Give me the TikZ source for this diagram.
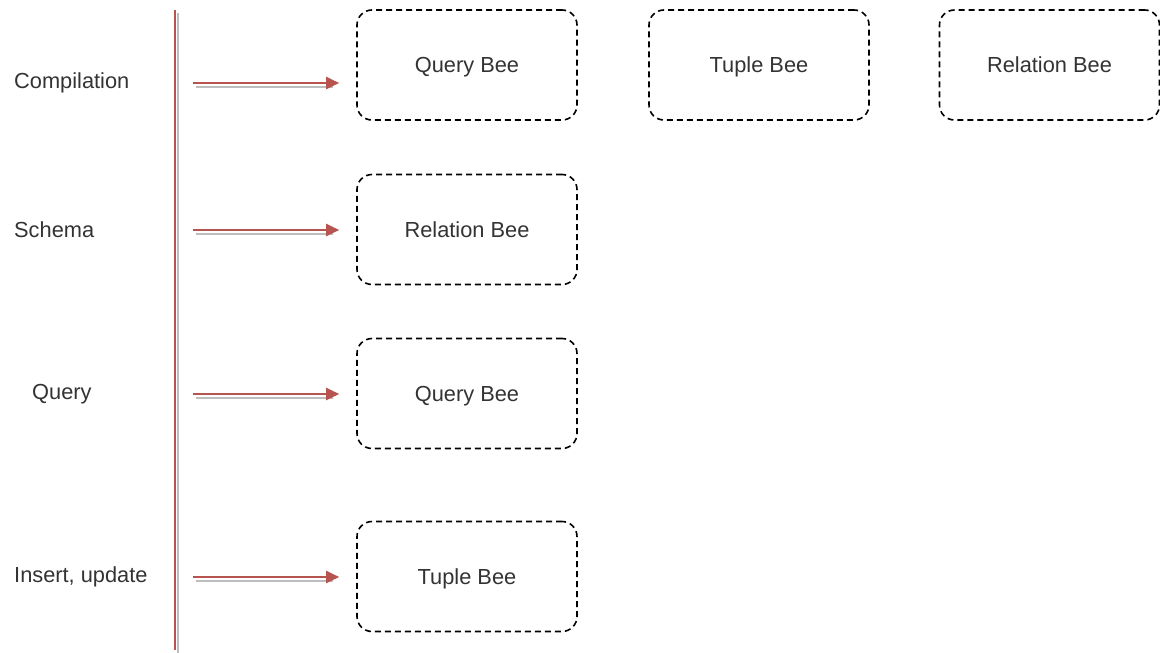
\documentclass[tikz,border=0pt]{standalone}
\usepackage{fontspec}
\setmainfont{Liberation Sans}
\usetikzlibrary{positioning, arrows.meta}

\definecolor{linered}{HTML}{B85450}
\definecolor{shadowgray}{HTML}{BDBDBD}
\definecolor{textgray}{HTML}{333333}

\tikzset{
  bee/.style={draw=black, dashed, dash pattern=on 6pt off 4pt, line width=1.6pt,
    rounded corners=15pt, minimum width=220pt, minimum height=110pt,
    font=\fontsize{21.8}{26}\selectfont, text=textgray, text depth=-2pt},
  phase/.style={anchor=west, inner sep=0pt, font=\fontsize{21.8}{26}\selectfont, text=textgray},
  redline/.style={draw=linered, line width=2pt},
  shadowline/.style={draw=shadowgray, line width=2pt},
  flow/.style={redline, -{Triangle[length=13pt, width=12pt]}}
}

\begin{document}
\begin{tikzpicture}[x=1pt, y=-1pt]
  \useasboundingbox (0,0) rectangle (1160,653);

  % time axis
  \coordinate (top) at (175,10);
  \coordinate (bottom) at (175,650);
  \draw[shadowline] ([shift={(3,3)}]top) -- ([shift={(3,3)}]bottom);
  \draw[redline] (top) -- (bottom);

  % phases
  \node[phase] (compilation) at (14,83) {Compilation};
  \node[phase] (schema) at (14,230) {Schema};
  \node[phase] (query) at (32,394) {Query};
  \node[phase] (insert) at (14,577) {Insert, update};

  % bees
  \node[bee] (querybee) at (467,65) {Query Bee};
  \node[bee] (tuplebee) at (759,65) {Tuple Bee};
  \node[bee] (relationbee) at (1049.5,65) {Relation Bee};
  \node[bee] (relationbeeb) at (467,229.5) {Relation Bee};
  \node[bee] (querybeeb) at (467,393.5) {Query Bee};
  \node[bee] (tuplebeeb) at (467,576.5) {Tuple Bee};

  % arrows
  \foreach \b/\y in {querybee/83, relationbeeb/230, querybeeb/394, tuplebeeb/577} {
    \coordinate (s-\b) at (193,\y);
    \coordinate (e-\b) at ([xshift=-17pt]\b.west |- s-\b);
    \draw[shadowline] ([shift={(3,4)}]s-\b) -- ([shift={(-6,4)}]e-\b);
    \draw[flow] (s-\b) -- (e-\b);
  }

\end{tikzpicture}
\end{document}
